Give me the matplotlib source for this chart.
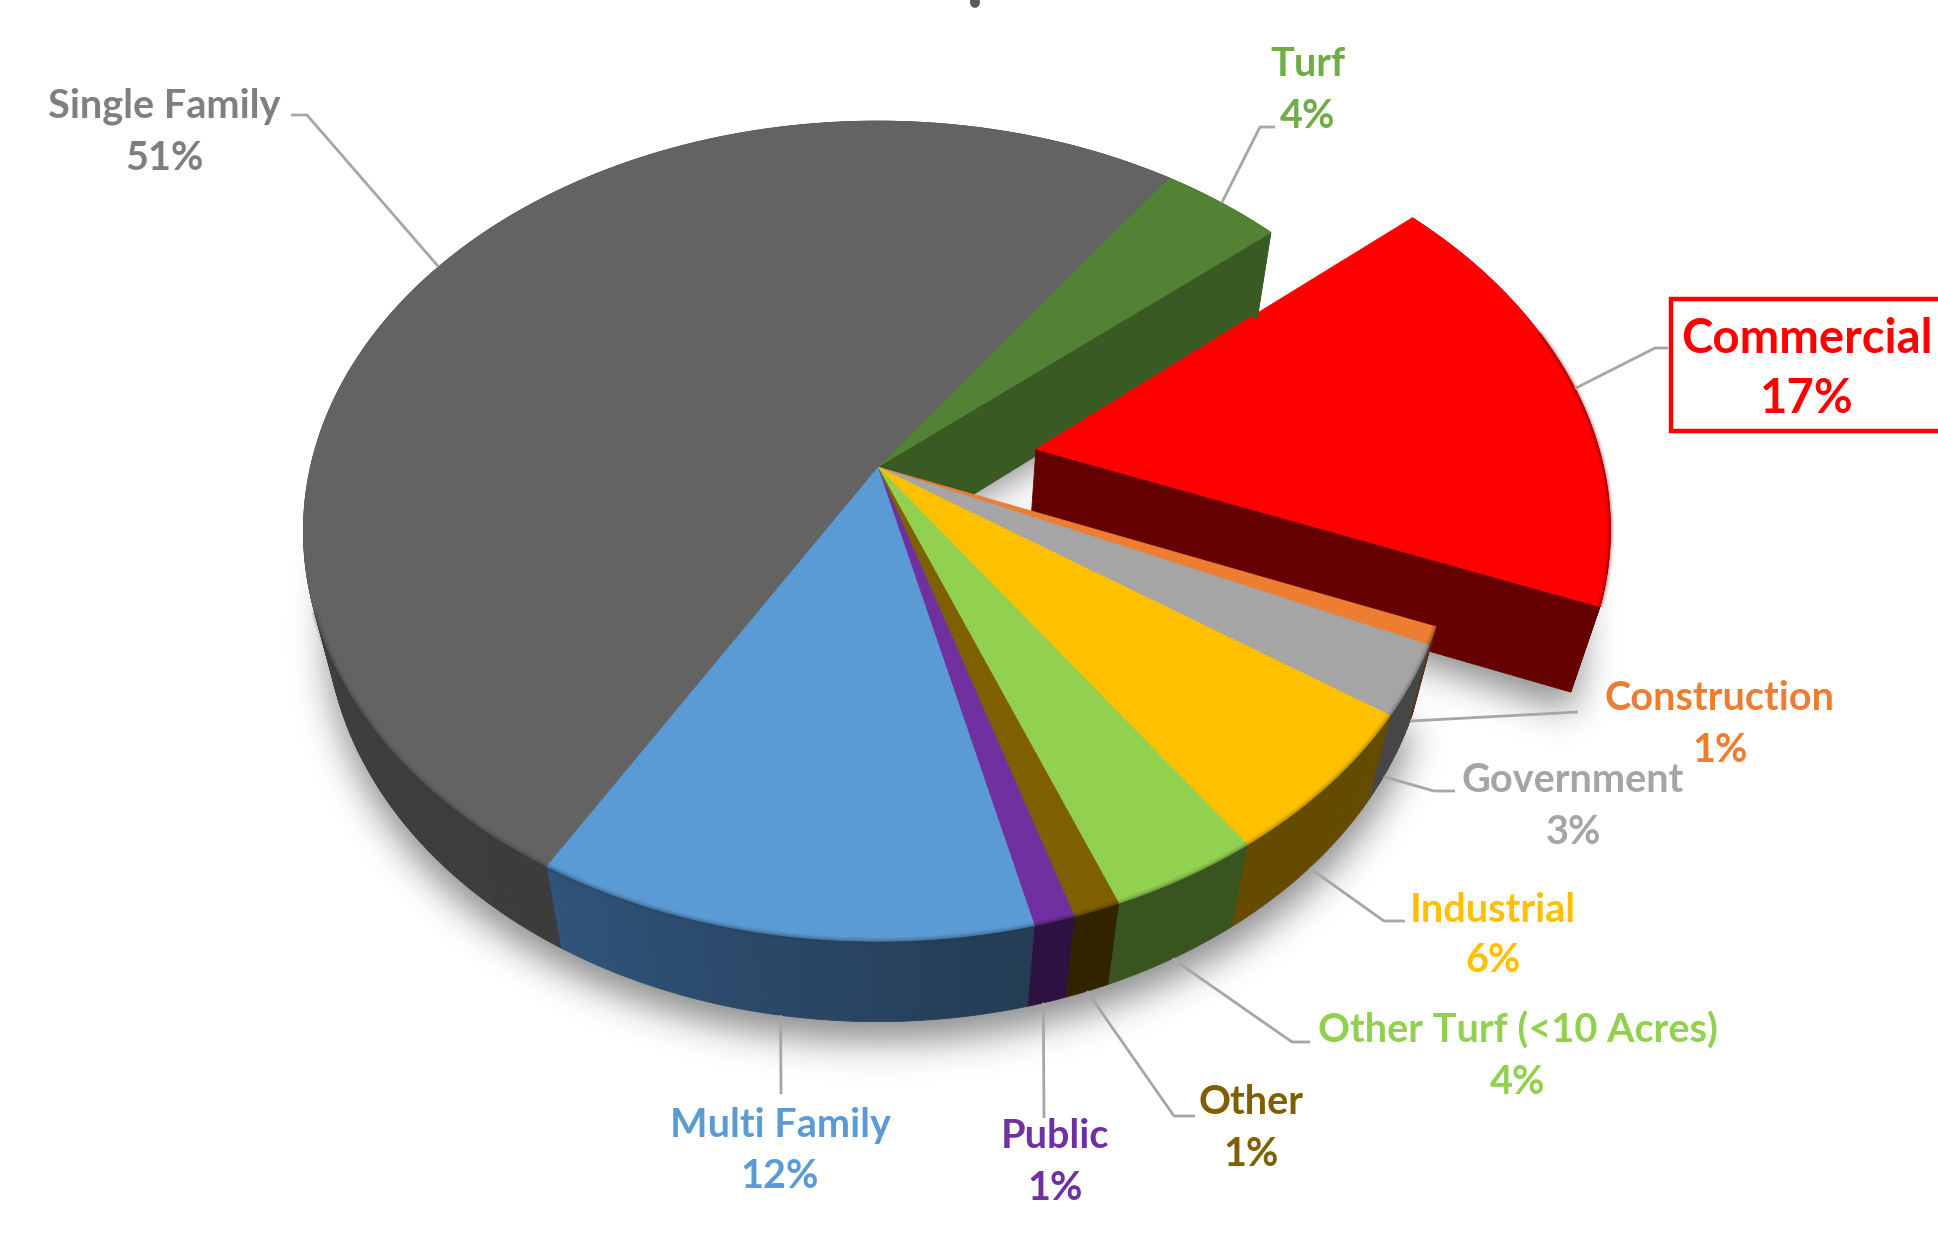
import numpy as np
import matplotlib
matplotlib.use("Agg")
import matplotlib.pyplot as plt
from matplotlib.colors import to_rgb
from matplotlib.path import Path

# 3D pie of irrigated area by customer class
labels = ["Turf", "Commercial", "Construction", "Government", "Industrial",
          "Other Turf (<10 Acres)", "Other", "Public", "Multi Family", "Single Family"]
shares = [4.0, 17.3, 0.7, 2.75, 5.8, 3.7, 1.15, 1.0, 12.2, 51.4]

top_colors = ["#548235", "#FF0000", "#ED7D31", "#A5A5A5", "#FFC000",
              "#92D050", "#7F6000", "#7030A0", "#5B9BD5", "#636363"]
wall_start = ["#3A5A24", "#640000", "#5E3216", "#464646", "#644B00",
              "#3A5420", "#322300", "#2D1241", "#243C54", "#3C3C3C"]
wall_end = ["#3A5A24", "#640000", "#5E3216", "#464646", "#644B00",
            "#3A5420", "#322300", "#2D1241", "#30547A", "#484848"]
text_colors = ["#70AD47", "#FF0000", "#ED7D31", "#A5A5A5", "#FFC000",
               "#92D050", "#7F6000", "#7030A0", "#5B9BD5", "#7F7F7F"]

# where the labels sit: name centre x, name centre y, percent centre y
label_x = [1308, 1807, 1720, 1573, 1493, 1518, 1251, 1055, 780, 164]
name_y = [64, 339, 698, 781, 910, 1031, 1102, 1137, 1126, 106]
pct_y = [116, 399, 750, 833, 961, 1082, 1154, 1188, 1177, 158]
# leader line: end next to the label, elbow, and how far the tip moves along the rim
leader_end = [(1275, 127), (1668, 348), (1578, 712), (1455, 791), (1405, 921),
              (1310, 1042), (1195, 1116), (1044, 1118), (781, 1094), (291, 115)]
leader_elbow = [(1260, 127), (1655, 348), None, (1434, 791), (1384, 921),
                (1292, 1042), (1174, 1116), None, None, (307, 115)]
tip_shift = [0, 0, 0, 1.6, 0, 0, 0, 0.3, 0.3, 0]
tip_depth = [0, 0, 1, 1, 1, 1, 1, 1, 1, 0]

START_ANGLE = 35.4
EXPLODE = 0.285
EXPLODED = 1  # Commercial

# perspective used for the disc
CX, CY = 877.5, 467.0
R, S, D = 567.0, 400.0, 90.0
K, M = 0.1565, 0.04


def project(x, y, z):
    w = 1 + K * y + M * z
    return CX + R * x / w, CY - (S * y - D * z) / w


def polar(theta):
    t = np.radians(theta)
    return np.sin(t), np.cos(t)


def rim(theta, z, off=(0, 0)):
    x, y = polar(theta)
    return project(x + off[0], y + off[1], z)


def arc(a, b, z, off=(0, 0)):
    n = max(int(abs(b - a) * 2), 2)
    return rim(np.linspace(a, b, n), z, off)


plt.rcParams["font.family"] = ["Lato", "DejaVu Sans"]
fig = plt.figure(figsize=(19.38, 12.45), dpi=100)
ax = fig.add_axes([0, 0, 1, 1])

edges = START_ANGLE + np.concatenate([[0], np.cumsum(shares)]) * 3.6
mids = (edges[:-1] + edges[1:]) / 2
ex_mid = polar(mids[EXPLODED])
ex_off = (EXPLODE * ex_mid[0], EXPLODE * ex_mid[1])
offsets = [ex_off if i == EXPLODED else (0, 0) for i in range(len(shares))]

# soft shadow under the body
step = 2
gx, gy = np.meshgrid(np.arange(0, 1938, step), np.arange(0, 1245, step))
pts = np.column_stack([gx.ravel(), gy.ravel()])
mask = np.zeros(gx.shape)
for i in [None, EXPLODED]:
    if i is None:
        a, b = edges[EXPLODED + 1], edges[EXPLODED] + 360
        off = (0, 0)
    else:
        a, b = edges[i], edges[i + 1]
        off = ex_off
    sx, sy = arc(a, b, 1.0, off)
    ax0, ay0 = project(off[0], off[1], 1.0)
    poly = np.column_stack([np.r_[ax0, sx], np.r_[ay0, sy + 20]])
    mask = np.maximum(mask, Path(poly).contains_points(pts).reshape(gx.shape))
sigma = 9
kx = np.exp(-0.5 * (np.arange(-27, 28) / sigma) ** 2)
kx /= kx.sum()
mask = np.apply_along_axis(lambda c: np.convolve(c, kx, mode="same"), 0, mask)
mask = np.apply_along_axis(lambda c: np.convolve(c, kx, mode="same"), 1, mask)
shadow = np.zeros(mask.shape + (4,))
shadow[..., 3] = mask * 0.45
ax.imshow(shadow, extent=(0, 1938, 1245, 0), interpolation="bilinear", aspect="auto", zorder=1)


def draw_rim_wall(i, zorder):
    a, b = edges[i], edges[i + 1]
    c0, c1 = np.array(to_rgb(wall_start[i])), np.array(to_rgb(wall_end[i]))
    ang = np.arange(a, b + 0.5, 0.5)
    ang[-1] = b
    for j in range(len(ang) - 1):
        t = (ang[j] - a) / (b - a)
        col = c0 + (c1 - c0) * t
        xt, yt = arc(ang[j], ang[j + 1], 0, offsets[i])
        xb, yb = arc(ang[j + 1], ang[j], 1, offsets[i])
        ax.fill(np.r_[xt, xb], np.r_[yt, yb], color=col, lw=0.6, zorder=zorder)


def draw_radial_wall(i, theta, zorder):
    off = offsets[i]
    x0, y0 = project(off[0], off[1], 0)
    x1, y1 = rim(theta, 0, off)
    x2, y2 = rim(theta, 1, off)
    x3, y3 = project(off[0], off[1], 1)
    ax.fill([x0, x1, x2, x3], [y0, y1, y2, y3], color=wall_start[i], lw=0.6, zorder=zorder)


def draw_top(i, zorder):
    off = offsets[i]
    x0, y0 = project(off[0], off[1], 0)
    xs, ys = arc(edges[i], edges[i + 1], 0, off)
    ax.fill(np.r_[x0, xs], np.r_[y0, ys], color=top_colors[i], lw=0.6, zorder=zorder)


def draw_bevel(i, zorder):
    # darkened band along the front of the rim
    a, b = max(edges[i], 72), min(edges[i + 1], 250)
    if b <= a:
        return
    xs, ys = arc(a, b, 0, offsets[i])
    for lw, alpha in [(8, 0.08), (5, 0.12), (2.5, 0.18)]:
        ax.plot(xs, ys, color=wall_start[i], lw=lw * 0.72, alpha=alpha,
                solid_capstyle="butt", zorder=zorder)


# back wall of the gap left by the exploded slice
draw_radial_wall(0, edges[1], 2)

# exploded slice sits behind the rest of the disc
draw_rim_wall(EXPLODED, 3)
draw_radial_wall(EXPLODED, edges[EXPLODED + 1], 4)
draw_top(EXPLODED, 5)
draw_bevel(EXPLODED, 5.5)

rest = [i for i in range(len(shares)) if i != EXPLODED]
for i in rest:
    draw_rim_wall(i, 6)
for i in rest:
    draw_top(i, 7)
for i in rest:
    draw_bevel(i, 8)

# leader lines and labels
for i in range(len(shares)):
    tx, ty = rim(mids[i] + tip_shift[i], tip_depth[i], offsets[i])
    path = [(tx, ty)]
    if leader_elbow[i] is not None:
        path.append(leader_elbow[i])
    path.append(leader_end[i])
    xs, ys = zip(*path)
    ax.plot(xs, ys, color="#A6A6A6", lw=2.0, solid_capstyle="butt", zorder=9)

    big = i == EXPLODED
    size = 34 if big else 28.5
    for txt, y in [(labels[i], name_y[i]), (f"{shares[i]:.0f}%", pct_y[i])]:
        ax.text(label_x[i], y, txt, color=text_colors[i], fontsize=size, fontweight="bold",
                ha="center", va="center", zorder=11)

# box around the highlighted label runs off the right edge
ax.plot([1945, 1671, 1671, 1945], [299, 299, 431, 431], color="#FF0000", lw=3.2,
        solid_joinstyle="miter", zorder=10)

# tail of the cropped title
ax.plot([975, 975], [-4, 3], color="#595959", lw=7, solid_capstyle="round", zorder=10)

ax.set_xlim(0, 1938)
ax.set_ylim(1245, 0)
ax.axis("off")
fig.savefig("out.png", dpi=100, facecolor="white")
